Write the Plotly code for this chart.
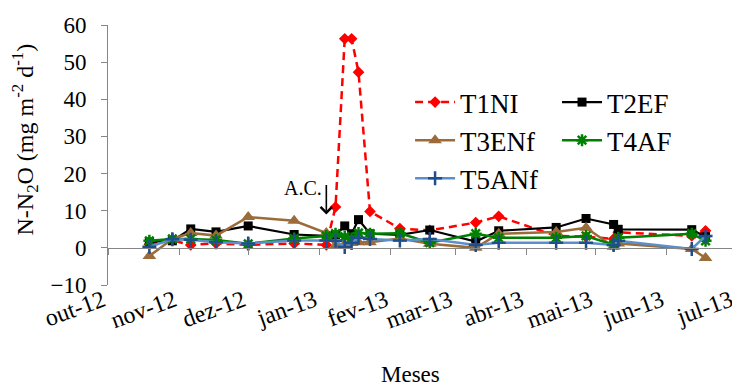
import plotly.graph_objects as go

dates = ["2012-10-19", "2012-10-29", "2012-11-06", "2012-11-17", "2012-12-01", "2012-12-21",
         "2013-01-04", "2013-01-08", "2013-01-12", "2013-01-15", "2013-01-18", "2013-01-23",
         "2013-02-05", "2013-02-18", "2013-03-10", "2013-03-20", "2013-04-14", "2013-04-27",
         "2013-05-09", "2013-05-11", "2013-06-12", "2013-06-18"]

t1ni = [1.0, 2.0, 0.8, 1.2, 0.8, 1.2, 0.8, 11.0, 56.3, 56.3, 47.3, 9.8,
        5.2, 4.7, 6.8, 8.5, 3.2, 3.0, 2.4, 4.2, 3.2, 4.6]
t2ef = [1.6, 1.9, 5.1, 4.3, 5.9, 3.6, 3.2, 3.5, 5.9, 3.8, 7.6, 3.8,
        3.5, 4.8, 1.7, 4.6, 5.5, 7.9, 6.3, 5.0, 4.9, 3.0]
t3enf = [-2.2, 2.4, 4.0, 3.3, 8.3, 7.3, 4.0, 0.5, 1.0, 1.3, 1.5, 1.5,
         2.5, 1.1, 0.0, 3.8, 4.3, 5.4, 0.3, 1.2, -0.3, -2.7]
t4af = [1.9, 2.4, 2.4, 2.1, 1.1, 2.5, 3.2, 3.8, 3.0, 2.5, 4.0, 3.8,
        3.9, 1.4, 3.8, 2.7, 2.7, 3.2, 0.8, 2.7, 3.8, 1.9]
t5anf = [0.3, 2.3, 2.2, 1.5, 1.2, 2.0, 2.0, 1.9, 0.2, 1.3, 2.7, 2.4,
         2.0, 2.4, 0.8, 1.4, 1.4, 1.4, 0.8, 1.9, -0.3, 3.2]

month_ticks = ["2012-10-01", "2012-11-01", "2012-12-01", "2013-01-01", "2013-02-01",
               "2013-03-01", "2013-04-01", "2013-05-01", "2013-06-01", "2013-07-01"]
month_labels = ["out-12", "nov-12", "dez-12", "jan-13", "fev-13",
                "mar-13", "abr-13", "mai-13", "jun-13", "jul-13"]

y_ticks = [-10, 0, 10, 20, 30, 40, 50, 60]
arrow_date = "2013-01-04"
arrow_tip = 9.0

FONT = "Times New Roman, Liberation Serif, serif"
AXIS_COL = "#868686"

fig = go.Figure()

fig.add_trace(go.Scatter(
    x=dates, y=t1ni, name="T1NI", mode="lines+markers",
    line=dict(color="#FF0000", width=2.5, dash="8px,5px"),
    marker=dict(symbol="diamond", size=9, color="#FF0000"),
    legend="legend"))
fig.add_trace(go.Scatter(
    x=dates, y=t2ef, name="T2EF", mode="lines+markers",
    line=dict(color="#000000", width=2.2),
    marker=dict(symbol="square", size=9, color="#000000"),
    legend="legend2"))
fig.add_trace(go.Scatter(
    x=dates, y=t3enf, name="T3ENf", mode="lines+markers",
    line=dict(color="#9C6B3A", width=2.5),
    marker=dict(symbol="triangle-up", size=12, color="#9C6B3A"),
    legend="legend"))
fig.add_trace(go.Scatter(
    x=dates, y=t4af, name="T4AF", mode="lines+markers",
    line=dict(color="#008000", width=2.5),
    marker=dict(symbol="asterisk-open", size=10, color="#008000",
                line=dict(color="#008000", width=2.5)),
    legend="legend2"))
fig.add_trace(go.Scatter(
    x=dates, y=t5anf, name="T5ANf", mode="lines+markers",
    line=dict(color="#5B8FCB", width=2.5),
    marker=dict(symbol="cross-thin-open", size=10, color="#1F4E8C",
                line=dict(color="#1F4E8C", width=2.5)),
    legend="legend"))

# invisible trace to carry the zero-line axis
fig.add_trace(go.Scatter(x=[month_ticks[0], month_ticks[-1]], y=[None, None],
                         xaxis="x2", showlegend=False, hoverinfo="skip"))

x_range = [month_ticks[0], month_ticks[-1] + " 06:00"]
y_range = [-10, 60]
zero_pos = (0 - y_range[0]) / (y_range[1] - y_range[0])

fig.update_layout(
    width=740, height=379,
    margin=dict(l=100, r=12, t=17, b=102, autoexpand=False),
    paper_bgcolor="white", plot_bgcolor="white",
    font=dict(family=FONT, color="#000000", size=22),
    xaxis=dict(type="date", range=x_range, tickvals=month_ticks, ticktext=month_labels,
               tickangle=-20, showline=False, ticks="", showgrid=False, zeroline=False,
               tickfont=dict(size=24, family=FONT), ticklabelstandoff=-4,
               ticklabelshift=-5, ticklabeloverflow="allow", automargin=False),
    xaxis2=dict(type="date", range=x_range, overlaying="x", anchor="free", position=zero_pos,
                tickvals=month_ticks, showticklabels=False, ticks="outside", ticklen=6,
                tickcolor=AXIS_COL, showline=True, linecolor=AXIS_COL, linewidth=1,
                showgrid=False, zeroline=False, automargin=False),
    yaxis=dict(range=y_range, tickvals=y_ticks, ticks="outside", ticklen=6,
               tickcolor=AXIS_COL, showline=True, linecolor=AXIS_COL, linewidth=1,
               showgrid=False, zeroline=False, tickfont=dict(size=23, family=FONT),
               ticklabelstandoff=10, automargin=False),
    legend=dict(x=0.481, y=0.796, xanchor="left", yanchor="top", bgcolor="rgba(0,0,0,0)",
                font=dict(size=27, family=FONT), itemwidth=40, tracegroupgap=0),
    legend2=dict(x=0.715, y=0.796, xanchor="left", yanchor="top", bgcolor="rgba(0,0,0,0)",
                 font=dict(size=27, family=FONT), itemwidth=40, tracegroupgap=0),
    showlegend=True,
)

# axis titles
fig.add_annotation(text="Meses", xref="paper", yref="paper", x=0.481, y=-0.346,
                   showarrow=False, font=dict(size=23, family=FONT), xanchor="center", yanchor="middle")
fig.add_annotation(text="N-N<sub>2</sub>O (mg m<sup>-2</sup> d<sup>-1</sup>)", xref="paper", yref="paper",
                   x=-0.132, y=0.56, textangle=-90, showarrow=False,
                   font=dict(size=24, family=FONT), xanchor="center", yanchor="middle")

# A.C. arrow
fig.add_annotation(x=arrow_date, y=arrow_tip, xref="x", yref="y", text=" ",
                   showarrow=True, arrowhead=4, arrowsize=1.4, arrowwidth=1.6, arrowcolor="#000000",
                   ax=0, ay=-32, standoff=0, font=dict(size=2))
fig.add_annotation(x=arrow_date, y=arrow_tip, xref="x", yref="y", text="A.C.",
                   showarrow=False, xanchor="right", yanchor="middle", xshift=-2, yshift=26,
                   font=dict(size=20, family=FONT))

fig.write_html("out.html")
